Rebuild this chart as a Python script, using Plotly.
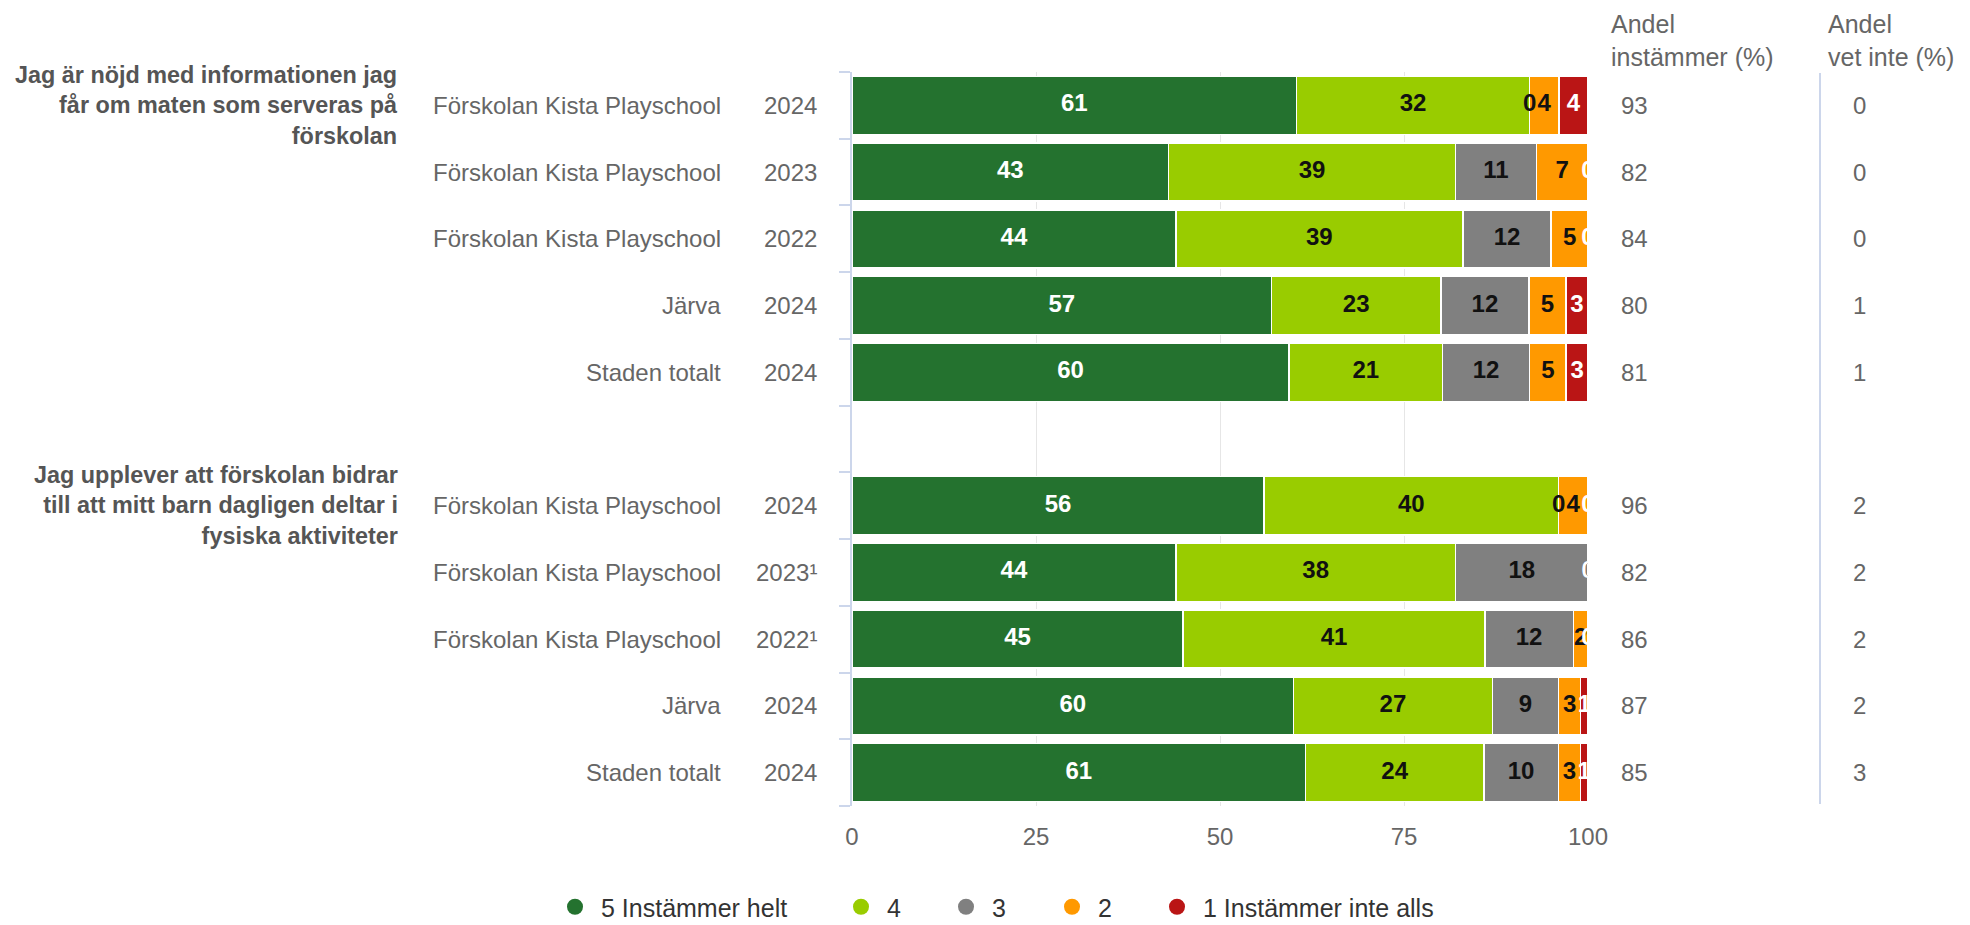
import plotly.graph_objects as go

# ---------------- data ----------------
questions = [
    "Jag är nöjd med informationen jag<br>får om maten som serveras på<br>förskolan",
    "Jag upplever att förskolan bidrar<br>till att mitt barn dagligen deltar i<br>fysiska aktiviteter",
]
units = ["Förskolan Kista Playschool", "Förskolan Kista Playschool", "Förskolan Kista Playschool",
         "Järva", "Staden totalt"]
years_q1 = ["2024", "2023", "2022", "2024", "2024"]
years_q2 = ["2024", "2023¹", "2022¹", "2024", "2024"]

series_names = ["5 Instämmer helt", "4", "3", "2", "1 Instämmer inte alls"]
s5 = [61, 43, 44, 57, 60, 56, 44, 45, 60, 61]
s4 = [32, 39, 39, 23, 21, 40, 38, 41, 27, 24]
s3 = [0, 11, 12, 12, 12, 0, 18, 12, 9, 10]
s2 = [4, 7, 5, 5, 5, 4, 0, 2, 3, 3]
s1 = [4, 0, 0, 3, 3, 0, 0, 0, 1, 1]

andel_instammer = [93, 82, 84, 80, 81, 96, 82, 86, 87, 85]
andel_vet_inte = [0, 0, 0, 1, 1, 2, 2, 2, 2, 3]

x_ticks = [0, 25, 50, 75, 100]

# ---------------- style ----------------
colors = ["#24722F", "#99CC00", "#808080", "#FF9900", "#BA1515"]
label_colors = ["#FFFFFF", "#111111", "#111111", "#111111", "#FFFFFF"]
legend_symbol_px = [575, 861, 966, 1072, 1177]   # legend item positions (screen px)
FONT = "Liberation Sans, Arial, sans-serif"
OFF = 8  # page body margin of the html page
W, H = 1970 - OFF, 925 - OFF
ML, MT = 852 - OFF, 72 - OFF
MR = W - (1588 - OFF)
MB = H - (806 - OFF)
PW = W - ML - MR
PH = H - MT - MB


def px2paper(px):
    """screen x pixel of the window -> paper coordinate"""
    return (px - OFF - ML) / PW


def py2paper(py):
    """screen y pixel of the window -> paper coordinate"""
    return 1 - (py - OFF - MT) / PH


n_rows = len(units)
years = [years_q1, years_q2]
# slot positions: each question block of rows followed by one empty slot
slots = [q * (n_rows + 1) + r for q in range(len(questions)) for r in range(n_rows)]
n_slots = len(questions) * (n_rows + 1) - 1

all_series = [s5, s4, s3, s2, s1]
totals = [sum(s[i] for s in all_series) for i in range(len(slots))]
norm = [[v / t * 100 for v, t in zip(s, totals)] for s in all_series]

fig = go.Figure()

# stacked bars (percent stacking)
for k, name in enumerate(series_names):
    fig.add_trace(go.Bar(
        y=slots, x=norm[k], orientation="h", name=name,
        marker=dict(color=colors[k], line=dict(color="#FFFFFF", width=1.5)),
        width=0.87, showlegend=False, hoverinfo="skip",
    ))

# data labels
cum = [0.0] * len(slots)
for k in range(len(series_names)):
    xs = [c + v / 2 for c, v in zip(cum, norm[k])]
    fig.add_trace(go.Scatter(
        y=slots, x=xs, mode="text", text=[str(v) for v in all_series[k]],
        textposition="middle center",
        textfont=dict(family=FONT, size=24, color=label_colors[k], weight="bold"),
        showlegend=False, hoverinfo="skip", cliponaxis=True,
    ))
    cum = [c + v for c, v in zip(cum, norm[k])]

# legend entries (circles), one legend box per entry for Highcharts-like spacing
legend_ids = ["legend"] + ["legend%d" % (k + 1) for k in range(1, len(series_names))]
for k, name in enumerate(series_names):
    fig.add_trace(go.Scatter(
        x=[None], y=[None], mode="markers", name=name, legend=legend_ids[k],
        marker=dict(color=colors[k], size=16, symbol="circle"),
        showlegend=True,
    ))

annotations = []
# row labels
for q in range(len(questions)):
    for r in range(n_rows):
        y = q * (n_rows + 1) + r
        annotations.append(dict(x=px2paper(723), y=y, xref="paper", yref="y", text=units[r],
                                xanchor="right", yanchor="middle", showarrow=False,
                                font=dict(family=FONT, size=24, color="#666666")))
        annotations.append(dict(x=px2paper(819), y=y, xref="paper", yref="y", text=years[q][r],
                                xanchor="right", yanchor="middle", showarrow=False,
                                font=dict(family=FONT, size=24, color="#666666")))
    annotations.append(dict(x=px2paper(400), y=q * (n_rows + 1), xref="paper", yref="y",
                            text=questions[q], xanchor="right", yanchor="middle", align="right",
                            showarrow=False,
                            font=dict(family=FONT, size=23.4, color="#555555", weight="bold")))

# right-hand table
for i, y in enumerate(slots):
    annotations.append(dict(x=px2paper(1634), y=y, xref="paper", yref="y", text=str(andel_instammer[i]),
                            xanchor="center", yanchor="middle", showarrow=False,
                            font=dict(family=FONT, size=24, color="#666666")))
    annotations.append(dict(x=px2paper(1859), y=y, xref="paper", yref="y", text=str(andel_vet_inte[i]),
                            xanchor="center", yanchor="middle", showarrow=False,
                            font=dict(family=FONT, size=24, color="#666666")))

header_y = py2paper(40)
annotations.append(dict(x=px2paper(1609), y=header_y, xref="paper", yref="paper",
                        text="Andel<br>instämmer (%)", xanchor="left", yanchor="middle",
                        align="left", showarrow=False,
                        font=dict(family=FONT, size=25, color="#666666")))
annotations.append(dict(x=px2paper(1826), y=header_y, xref="paper", yref="paper",
                        text="Andel<br>vet inte (%)", xanchor="left", yanchor="middle",
                        align="left", showarrow=False,
                        font=dict(family=FONT, size=25, color="#666666")))

shapes = [dict(type="line", xref="paper", yref="paper",
               x0=px2paper(1820), x1=px2paper(1820), y0=py2paper(804), y1=py2paper(73),
               line=dict(color="#CCD6EB", width=2))]

legend_layout = {}
for k, lid in enumerate(legend_ids):
    legend_layout[lid] = dict(
        orientation="h", xref="container", yref="container",
        x=(legend_symbol_px[k] - 26 - OFF) / W, y=1 - (907 - OFF) / H,
        xanchor="left", yanchor="middle",
        font=dict(family=FONT, size=25, color="#333333"),
        itemwidth=42, bgcolor="rgba(0,0,0,0)", borderwidth=0,
    )

fig.update_layout(
    width=W, height=H,
    margin=dict(l=ML, r=MR, t=MT, b=MB, pad=0),
    paper_bgcolor="white", plot_bgcolor="white",
    barmode="stack", bargap=0.13,
    font=dict(family=FONT, color="#666666"),
    annotations=annotations, shapes=shapes,
    showlegend=True,
    xaxis=dict(range=[0, 100], tickvals=x_ticks, showgrid=True, gridcolor="#E6E6E6", gridwidth=1,
               zeroline=False, showline=False, ticks="", ticklabelstandoff=14,
               tickfont=dict(family=FONT, size=24, color="#666666"), fixedrange=True),
    yaxis=dict(range=[n_slots - 0.5, -0.5], showticklabels=False, showgrid=False, zeroline=False,
               showline=True, linecolor="#CCD6EB", linewidth=2,
               tickvals=[i - 0.5 for i in range(n_slots + 1)], ticks="outside", ticklen=11,
               tickcolor="#CCD6EB", tickwidth=2, fixedrange=True),
    **legend_layout,
)

fig.write_html("out.html")
